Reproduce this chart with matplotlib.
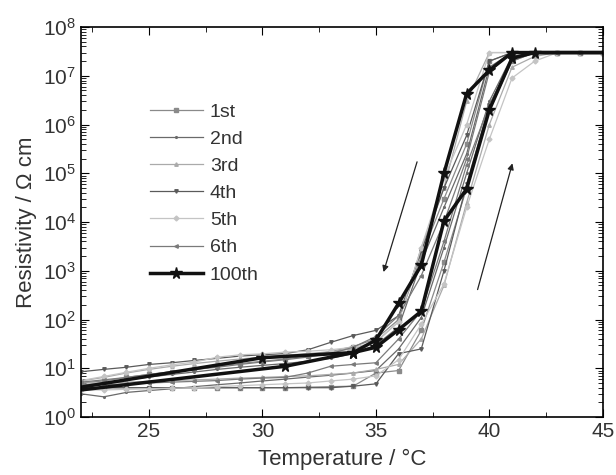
import numpy as np
import matplotlib.pyplot as plt

plt.rcParams['font.family'] = ['Liberation Sans', 'DejaVu Sans']

# temperature grid for the six early cycles
temps = list(range(22, 46))

# heating / cooling branches of cycles 1-6 (resistivity, Ohm cm)
heat_1 = [4.0, 4.0, 4.0, 4.0, 4.0, 4.0, 4.0, 4.0, 4.0, 4.0, 4.1, 4.2, 4.3, 8.0, 9.0, 60, 1.5e3, 5.0e4, 2.0e6, 2.0e7, 3.0e7, 3.0e7, 3.0e7, 3.0e7]
cool_1 = [5.0, 5.5, 6.5, 7.5, 8.5, 9.5, 11, 12.5, 14, 15.5, 18, 22, 28, 40, 100, 2.0e3, 3.0e4, 4.0e5, 2.0e7, 3.0e7, 3.0e7, 3.0e7, 3.0e7, 3.0e7]
heat_2 = [3.0, 2.6, 3.2, 3.5, 3.8, 4.2, 4.6, 5.0, 5.5, 6.0, 6.6, 7.2, 8.0, 9.0, 25, 110, 3.0e3, 1.0e5, 3.0e6, 2.5e7, 3.0e7, 3.0e7, 3.0e7, 3.0e7]
cool_2 = [4.5, 5.0, 5.8, 6.6, 7.5, 8.4, 9.5, 10.5, 11.5, 12.5, 14, 16, 20, 30, 70, 1.5e3, 2.0e4, 2.5e5, 1.5e7, 3.0e7, 3.0e7, 3.0e7, 3.0e7, 3.0e7]
heat_3 = [5.0, 5.0, 5.2, 5.4, 5.6, 5.8, 6.0, 6.3, 6.5, 6.8, 7.0, 7.5, 8.0, 9.5, 12, 40, 500, 2.5e4, 1.0e6, 1.5e7, 2.5e7, 3.0e7, 3.0e7, 3.0e7]
cool_3 = [5.5, 6.5, 8.0, 9.5, 11, 12.5, 14, 15.5, 17, 18.5, 20, 22, 25, 35, 90, 3.0e3, 5.0e4, 3.0e6, 3.0e7, 3.0e7, 3.0e7, 3.0e7, 3.0e7, 3.0e7]
heat_4 = [4.0, 4.0, 4.0, 4.0, 4.0, 4.0, 4.0, 4.0, 4.0, 4.0, 4.0, 4.0, 4.3, 4.8, 20, 25, 1.0e3, 6.0e4, 2.5e6, 2.2e7, 3.0e7, 3.0e7, 3.0e7, 3.0e7]
cool_4 = [8.5, 9.5, 10.5, 12, 13, 14.5, 16, 17.8, 19, 20, 24, 34, 47, 60, 120, 2.5e3, 5.0e4, 6.0e5, 2.0e7, 3.0e7, 3.0e7, 3.0e7, 3.0e7, 3.0e7]
heat_5 = [3.6, 3.6, 3.7, 3.8, 3.9, 4.0, 4.2, 4.4, 4.6, 4.8, 5.0, 5.5, 6.0, 7.0, 15, 80, 540, 2.0e4, 5.0e5, 9.0e6, 2.0e7, 3.0e7, 3.0e7, 3.0e7]
cool_5 = [5.6, 6.8, 8.3, 10, 11.8, 13.4, 16.9, 18.9, 19.8, 21.5, 22.4, 24, 27, 34, 90, 3.0e3, 8.0e4, 1.0e6, 3.0e7, 3.0e7, 3.0e7, 3.0e7, 3.0e7, 3.0e7]
heat_6 = [4.5, 4.6, 4.8, 5.0, 5.2, 5.4, 5.6, 6.0, 6.3, 6.5, 8.0, 11, 12, 13, 40, 150, 4.0e3, 1.5e5, 2.5e6, 2.0e7, 3.0e7, 3.0e7, 3.0e7, 3.0e7]
cool_6 = [5.2, 5.8, 6.5, 7.5, 8.5, 9.5, 10.5, 12, 13.5, 15, 17, 20, 27, 45, 120, 800, 1.0e4, 2.0e5, 1.2e7, 3.0e7, 3.0e7, 3.0e7, 3.0e7, 3.0e7]

labels = ['1st', '2nd', '3rd', '4th', '5th', '6th']
heats = [heat_1, heat_2, heat_3, heat_4, heat_5, heat_6]
cools = [cool_1, cool_2, cool_3, cool_4, cool_5, cool_6]
colors = ['#8a8a8a', '#6a6a6a', '#aaaaaa', '#5a5a5a', '#c4c4c4', '#7a7a7a']
markers = ['s', '.', '^', 'v', 'D', '<']

# 100th cycle
t100_heat = [22, 31, 34, 35, 36, 37, 38, 39, 40, 41, 42, 45]
r100_heat = [3.6, 11, 21, 27, 62, 148, 1.05e4, 4.8e4, 2.0e6, 2.3e7, 3.0e7, 3.0e7]
t100_cool = [45, 41, 40, 39, 38, 37, 36, 35, 34, 30, 22]
r100_cool = [3.0e7, 3.0e7, 1.3e7, 4.3e6, 1.0e5, 1.3e3, 215, 38, 21, 16.5, 4.1]

fig = plt.figure(figsize=(6.16, 4.75), dpi=100)
ax = fig.add_axes([0.1315, 0.122, 0.847, 0.821])

for lab, h, c, col, m in zip(labels, heats, cools, colors, markers):
    ax.plot(temps, h, color=col, marker=m, ms=2.5, lw=0.9, label=lab)
    ax.plot(temps, c, color=col, marker=m, ms=2.5, lw=0.9)

ax.plot(t100_heat, r100_heat, color='#111111', marker='*', ms=8.5, lw=2.5,
        markevery=list(range(1, len(t100_heat) - 1)), label='100th')
ax.plot(t100_cool, r100_cool, color='#111111', marker='*', ms=8.5, lw=2.5,
        markevery=list(range(1, len(t100_cool) - 1)))

# cooling / heating arrows
ax.annotate('', xy=(35.3, 10**2.92), xytext=(36.85, 10**5.29),
            arrowprops=dict(arrowstyle='-|>', lw=0.9, color='#222222', mutation_scale=9))
ax.annotate('', xy=(41.05, 10**5.26), xytext=(39.45, 10**2.56),
            arrowprops=dict(arrowstyle='-|>', lw=0.9, color='#222222', mutation_scale=9))

ax.set_yscale('log')
ax.set_xlim(22, 45)
ax.set_ylim(1, 1e8)
ax.set_xticks([25, 30, 35, 40, 45])
ax.set_xticks(np.arange(22.5, 45, 2.5), minor=True)
ax.set_yticks([10.0**k for k in range(9)])
ax.tick_params(which='both', direction='in', top=True, right=True, labelsize=15,
               labelcolor='#333333')
ax.tick_params(which='major', length=6)
ax.tick_params(which='minor', length=3.5)
ax.set_xlabel('Temperature / °C', fontsize=16, color='#333333', labelpad=6)
ax.set_ylabel('Resistivity / Ω cm', fontsize=16, color='#333333')
for s in ax.spines.values():
    s.set_linewidth(1.2)

ax.legend(loc='upper left', bbox_to_anchor=(0.098, 0.85), frameon=False, fontsize=14,
          handlelength=2.75, labelspacing=0.49, handletextpad=0.35, labelcolor='#333333')

fig.savefig('out.png', dpi=100)
